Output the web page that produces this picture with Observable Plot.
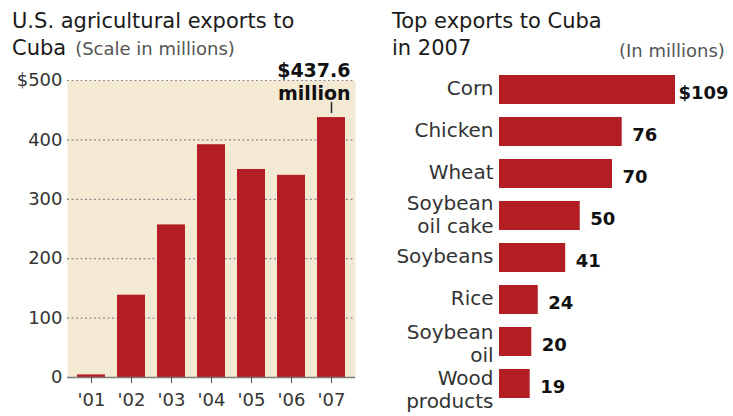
<!DOCTYPE html>
<html><head><meta charset="utf-8">
<script src="https://cdn.jsdelivr.net/npm/d3@7"></script>
<script src="https://cdn.jsdelivr.net/npm/@observablehq/plot@0.6"></script>
<style>
body{margin:0;background:#fff;font-family:"DejaVu Sans",sans-serif;color:#1a1a1a;}
#wrap{position:relative;width:733px;height:416px;overflow:hidden;}
.t{position:absolute;white-space:nowrap;line-height:1;}
.h{font-size:21px;color:#1a1a1a;}
.s{font-size:18px;color:#555;}
#lp,#rp{position:absolute;top:0;}
#lp{left:0;} #rp{left:380px;}
</style></head><body>
<div id="wrap">
  <div id="lp"></div>
  <div id="rp"></div>
  <div class="t h" style="left:12px;top:11px">U.S. agricultural exports to</div>
  <div class="t h" style="left:12px;top:38px">Cuba<span class="s" style="margin-left:9px">(Scale in millions)</span></div>
  <div class="t h" style="left:392px;top:11px">Top exports to Cuba</div>
  <div class="t h" style="left:392px;top:38px">in 2007</div>
  <div class="t s" style="left:619px;top:42px">(In millions)</div>
</div>
<script>
const years = ["'01", "'02", "'03", "'04", "'05", "'06", "'07"];
const exportValues = [4.4, 138.6, 256.9, 391.9, 350.2, 340.4, 437.6];
const yTicks = [0, 100, 200, 300, 400, 500];
const products = ["Corn", "Chicken", "Wheat", "Soybean\noil cake", "Soybeans", "Rice", "Soybean\noil", "Wood\nproducts"];
const productValues = [109, 76, 70, 50, 41, 24, 20, 19];

const RED = "#b31e25";
const TAN = "#f4ead4";

const yearData = years.map((year, i) => ({year, value: exportValues[i]}));
const lastYear = yearData.slice(-1);
const productData = products.map((product, i) => ({product, value: productValues[i], i}));

const left = Plot.plot({
  width: 370, height: 416,
  marginLeft: 67, marginRight: 15, marginTop: 80, marginBottom: 39,
  style: {fontFamily: "DejaVu Sans", fontSize: "18px", color: "#333", background: "none", overflow: "visible"},
  x: {type: "band", domain: years, paddingInner: 0.29, paddingOuter: 0.18, label: null},
  y: {domain: [0, 500], label: null},
  marks: [
    Plot.frame({fill: TAN, stroke: "none"}),
    Plot.gridY(yTicks.filter(d => d > 0), {stroke: "#8c8c8c", strokeOpacity: 1, strokeDasharray: "2,2.5", strokeWidth: 1.2}),
    Plot.barY(yearData, {x: "year", y: "value", fill: RED}),
    Plot.ruleY([0], {stroke: "#7a7a7a", strokeWidth: 1.6}),
    Plot.axisY({ticks: yTicks, tickSize: 0, tickPadding: 5, tickFormat: d => d === 500 ? "$500" : String(d), fontSize: 18, fill: "#333", label: null}),
    Plot.axisX({tickSize: 6, tickPadding: 10, stroke: "#555", fill: "#333", fontSize: 18, label: null}),
    Plot.ruleX(lastYear, {x: "year", y1: "value", y2: "value", insetTop: -15, insetBottom: 4, stroke: "#222", strokeWidth: 1.5}),
    Plot.text(lastYear, {x: "year", y: "value", text: d => `$${d.value}\nmillion`, lineAnchor: "bottom", textAnchor: "end", dx: 19, dy: -18, fontSize: 19, fontWeight: "bold", lineHeight: 1.21, fill: "#111"})
  ]
});
document.getElementById("lp").appendChild(left);

const labelStyle = {tickSize: 0, tickPadding: 6, fontSize: 20, lineHeight: 1.15, fill: "#333", label: null};
const right = Plot.plot({
  width: 353, height: 416,
  marginLeft: 119, marginRight: 58, marginTop: 60, marginBottom: 2,
  style: {fontFamily: "DejaVu Sans", fontSize: "18px", color: "#333", background: "none", overflow: "visible"},
  x: {domain: [0, 109], axis: null},
  y: {type: "band", domain: products, padding: 0.3, label: null},
  marks: [
    Plot.barX(productData, {x: "value", y: "product", fill: RED}),
    Plot.axisY(products.slice(0, 6), {...labelStyle, dy: -2}),
    Plot.axisY(products.slice(6, 7), {...labelStyle, dy: 1}),
    Plot.axisY(products.slice(7), {...labelStyle, dy: 5}),
    Plot.text(productData.slice(0, 1), {x: "value", y: "product", text: d => `$${d.value}`, textAnchor: "start", dx: 3, dy: 3, fontSize: 18, fontWeight: "bold", fill: "#111"}),
    Plot.text(productData.slice(1), {x: "value", y: "product", text: d => String(d.value), textAnchor: "start", dx: 10, dy: 3, fontSize: 18, fontWeight: "bold", fill: "#111"})
  ]
});
document.getElementById("rp").appendChild(right);
</script>
</body></html>
